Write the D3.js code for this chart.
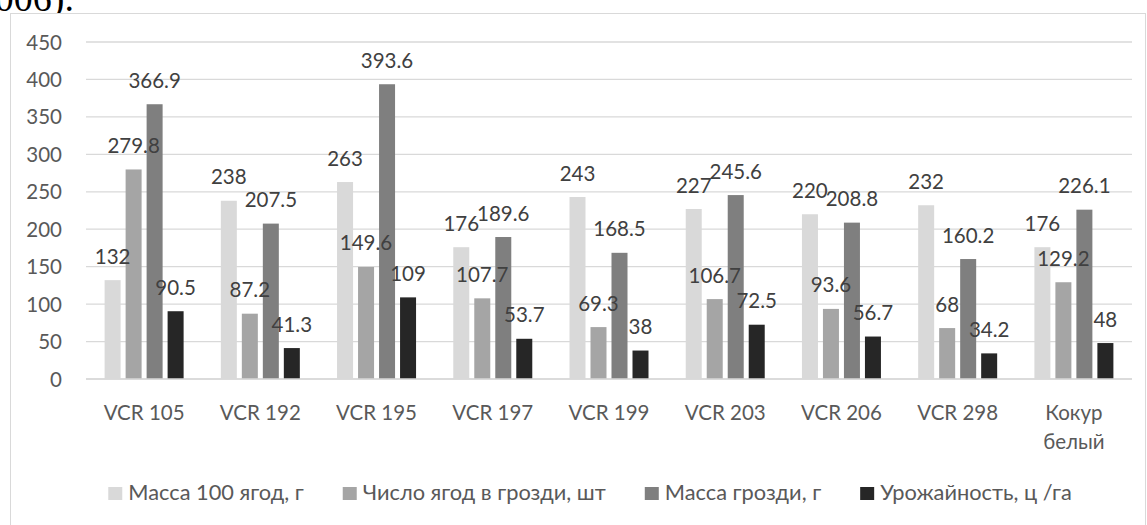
<!DOCTYPE html>
<head>
  <meta charset="UTF-8">
  <title>Сорта винограда</title>
  <script src="https://d3js.org/d3.v7.min.js"></script>
  <style>
    body { margin: 0; background: #fff; }
    svg text { font-family: Lato, "Open Sans", sans-serif; }
    svg text.doc { font-family: "Liberation Serif", "DejaVu Serif", serif; }
  </style>
</head>
<body>
  <div id="graphContainer"></div>

  <script>
    // Data
    const categories = ["VCR 105", "VCR 192", "VCR 195", "VCR 197", "VCR 199",
                        "VCR 203", "VCR 206", "VCR 298", "Кокур белый"];
    const seriesNames = ["Масса 100 ягод, г", "Число ягод в грозди, шт",
                         "Масса грозди, г", "Урожайность, ц /га"];
    const mass100 = [132, 238, 263, 176, 243, 227, 220, 232, 176];
    const berries = [279.8, 87.2, 149.6, 107.7, 69.3, 106.7, 93.6, 68, 129.2];
    const cluster = [366.9, 207.5, 393.6, 189.6, 168.5, 245.6, 208.8, 160.2, 226.1];
    const yieldH = [90.5, 41.3, 109, 53.7, 38, 72.5, 56.7, 34.2, 48];
    const yTicks = [0, 50, 100, 150, 200, 250, 300, 350, 400, 450];

    const colors = ["#d9d9d9", "#a5a5a5", "#7f7f7f", "#262626"];
    const series = [mass100, berries, cluster, yieldH];

    const W = 1147, H = 525;
    const plot = {left: 86, right: 1132, top: 42, bottom: 379};

    const svg = d3.select("#graphContainer")
          .append("svg")
          .attr("width", W)
          .attr("height", H);

    // Remains of the document text above the chart (cut by the page edge)
    svg.append("text")
        .attr("class", "doc")
        .attr("x", 74).attr("y", 10.5)
        .attr("text-anchor", "end")
        .style("font-size", "38px")
        .attr("fill", "#000")
        .text("2006).");

    // chart frame
    svg.append("rect")
        .attr("x", 10.5).attr("y", 13.5)
        .attr("width", 1135).attr("height", 530)
        .attr("fill", "#fff")
        .attr("stroke", "#d9d9d9")
        .attr("stroke-width", 1);

    // scales
    const x = d3.scaleBand()
          .domain(categories)
          .range([plot.left, plot.right]);
    const y = d3.scaleLinear()
          .domain([0, 450])
          .range([plot.bottom, plot.top]);

    const barW = 16, barStep = 21;
    const barX = (i, s) => x(categories[i]) + x.bandwidth() / 2 + (s - 1.5) * barStep - barW / 2;

    // gridlines
    svg.append("g")
        .selectAll("line")
        .data(yTicks)
        .join("line")
        .attr("x1", plot.left).attr("x2", plot.right)
        .attr("y1", d => y(d)).attr("y2", d => y(d))
        .attr("stroke", "#d9d9d9")
        .attr("stroke-width", 1.3);

    // y tick labels
    svg.append("g")
        .selectAll("text")
        .data(yTicks)
        .join("text")
        .attr("x", 62)
        .attr("y", d => y(d) + 7.5)
        .attr("text-anchor", "end")
        .attr("fill", "#595959")
        .style("font-size", "20.5px")
        .text(d => d);

    // bars
    series.forEach(function(vals, s) {
        svg.append("g")
            .selectAll("rect")
            .data(vals)
            .join("rect")
            .attr("x", (d, i) => barX(i, s))
            .attr("y", d => y(d))
            .attr("width", barW)
            .attr("height", d => y(0) - y(d))
            .attr("fill", colors[s]);
    });
    // data labels, outside end
    series.forEach(function(vals, s) {
        svg.append("g")
            .selectAll("text")
            .data(vals)
            .join("text")
            .attr("x", (d, i) => barX(i, s) + barW / 2)
            .attr("y", d => y(d) - 16.5)
            .attr("text-anchor", "middle")
            .attr("fill", "#404040")
            .style("font-size", "20.5px")
            .text(d => d);
    });

    // axis line
    svg.append("line")
        .attr("x1", plot.left).attr("x2", plot.right)
        .attr("y1", y(0)).attr("y2", y(0))
        .attr("stroke", "#d9d9d9")
        .attr("stroke-width", 1.5);

    // category labels (Кокур белый wraps)
    svg.append("g")
        .selectAll("text")
        .data(categories)
        .join("text")
        .attr("text-anchor", "middle")
        .attr("fill", "#595959")
        .style("font-size", "20.5px")
        .each(function(d) {
            const t = d3.select(this);
            const cx = x(d) + x.bandwidth() / 2;
            const words = d.startsWith("VCR") ? [d] : d.split(" ");
            words.forEach(function(w, k) {
                t.append("tspan")
                    .attr("x", cx)
                    .attr("y", 419.5 + k * 29.5)
                    .text(w);
            });
        });

    // legend
    const legend = svg.append("g");
    let lx = 0;
    seriesNames.forEach(function(name, s) {
        const g = legend.append("g").attr("transform", `translate(${lx},0)`);
        g.append("rect")
            .attr("x", 0).attr("y", 487)
            .attr("width", 14).attr("height", 13)
            .attr("fill", colors[s]);
        const t = g.append("text")
            .attr("x", 20).attr("y", 500)
            .attr("fill", "#595959")
            .style("font-size", "21.8px")
            .text(name);
        lx += 20 + t.node().getComputedTextLength() + 39;
    });
    const legW = lx - 39;
    legend.attr("transform", `translate(${590 - legW / 2},0)`);
  </script>
</body>
